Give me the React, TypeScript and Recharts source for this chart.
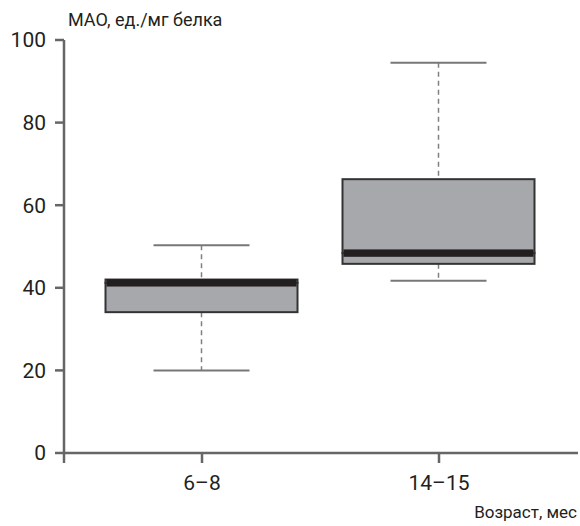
import { ComposedChart, Bar, XAxis, YAxis } from 'recharts';

const categories = ['6–8', '14–15'];
const minValues = [20, 41.7];
const q1Values = [34.1, 45.8];
const medianValues = [41.2, 48.4];
const q3Values = [42, 66.3];
const maxValues = [50.3, 94.5];
const yTicks = [0, 20, 40, 60, 80, 100];

const X_MIN = 0.4177;
const X_MAX = 2.5865;

const data = categories.map((name, i) => ({
  name,
  pos: i + 1,
  base: minValues[i],
  lowW: q1Values[i] - minValues[i],
  boxLo: medianValues[i] - q1Values[i],
  boxHi: q3Values[i] - medianValues[i],
  highW: maxValues[i] - q3Values[i],
}));

const FONT = 'Roboto, "Noto Sans", sans-serif';
const TEXT = '#231f20';
const AXIS = '#666666';

const LowWhisker = (p: any) => {
  const cx = p.x + p.width / 2;
  const bottom = p.y + p.height;
  return (
    <g>
      <line x1={cx} x2={cx} y1={p.y} y2={bottom} stroke="#808080" strokeWidth={1.5} strokeDasharray="5 4" />
      <line x1={cx - p.width / 4} x2={cx + p.width / 4} y1={bottom} y2={bottom} stroke="#777" strokeWidth={2} />
    </g>
  );
};

const HighWhisker = (p: any) => {
  const cx = p.x + p.width / 2;
  return (
    <g>
      <line x1={cx} x2={cx} y1={p.y} y2={p.y + p.height} stroke="#808080" strokeWidth={1.5} strokeDasharray="5 4" />
      <line x1={cx - p.width / 4} x2={cx + p.width / 4} y1={p.y} y2={p.y} stroke="#777" strokeWidth={2} />
    </g>
  );
};

const BoxPart = (p: any) => (
  <rect x={p.x} y={p.y} width={p.width} height={Math.max(p.height, 0)} fill="#a7a8ab" stroke="#333" strokeWidth={2} />
);

const BoxTop = (p: any) => {
  const medY = p.y + p.height;
  return (
    <g>
      <rect x={p.x} y={p.y} width={p.width} height={Math.max(p.height, 0)} fill="#a7a8ab" stroke="#333" strokeWidth={2} />
      <rect x={p.x + 1} y={medY - 3.7} width={p.width - 2} height={7.4} fill="#231f20" />
    </g>
  );
};

export default function App() {
  return (
    <div style={{ position: 'absolute', left: 0, top: 0, width: 580, height: 526, fontFamily: FONT, color: TEXT }}>
      <ComposedChart width={580} height={526} data={data} margin={{ top: 40, right: 2, bottom: 0, left: 0 }}>
        <XAxis
          dataKey="pos"
          type="number"
          domain={[X_MIN, X_MAX]}
          ticks={[X_MIN, 1, 2]}
          allowDataOverflow
          tickFormatter={(v: number) => (v === 1 ? categories[0] : v === 2 ? categories[1] : '')}
          height={73}
          tickSize={10}
          tickMargin={12}
          axisLine={{ stroke: AXIS, strokeWidth: 2.5 }}
          tickLine={{ stroke: AXIS, strokeWidth: 2.5 }}
          tick={{ fill: TEXT, fontSize: 21, fontFamily: FONT }}
        />
        <YAxis
          domain={[0, 100]}
          ticks={yTicks}
          width={64}
          tickSize={9}
          tickMargin={9}
          axisLine={{ stroke: AXIS, strokeWidth: 2.5 }}
          tickLine={{ stroke: AXIS, strokeWidth: 2.5 }}
          tick={{ fill: TEXT, fontSize: 21, fontFamily: FONT }}
        />
        <Bar dataKey="base" stackId="b" barSize={192} fill="none" isAnimationActive={false} shape={() => <g />} />
        <Bar dataKey="lowW" stackId="b" barSize={192} isAnimationActive={false} shape={LowWhisker} />
        <Bar dataKey="boxLo" stackId="b" barSize={192} isAnimationActive={false} shape={BoxPart} />
        <Bar dataKey="boxHi" stackId="b" barSize={192} isAnimationActive={false} shape={BoxTop} />
        <Bar dataKey="highW" stackId="b" barSize={192} isAnimationActive={false} shape={HighWhisker} />
      </ComposedChart>
      <div style={{ position: 'absolute', left: 68, top: 9, fontSize: 18, lineHeight: '22px', whiteSpace: 'nowrap' }}>МАО, ед./мг белка</div>
      <div style={{ position: 'absolute', right: 3, top: 502, fontSize: 17, lineHeight: '21px', whiteSpace: 'nowrap' }}>Возраст, мес</div>
    </div>
  );
}
